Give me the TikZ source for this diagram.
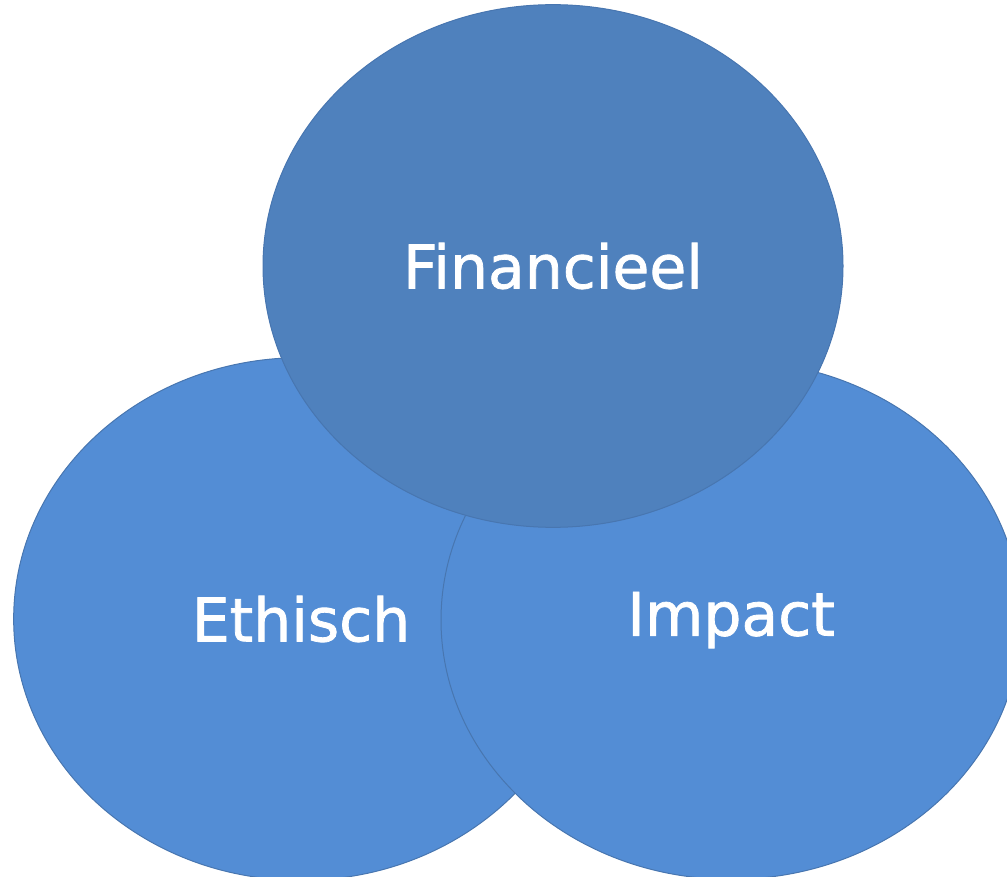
\documentclass[tikz,border=0pt]{standalone}
\usepackage{fontspec}
\usepackage{tikz}
\usetikzlibrary{shapes.geometric,positioning}
\newfontfamily\labelfont[FakeBold=1.3]{DejaVu Sans}
\definecolor{topblue}{RGB}{79, 129, 189}
\definecolor{lowblue}{RGB}{83, 141, 213}
\definecolor{rimblue}{RGB}{72, 118, 176}
\tikzstyle{area} = [ellipse, draw=rimblue, line width=0.75pt, fill=lowblue, text=white, inner sep=0pt, font=\labelfont\fontsize{45}{50}\selectfont]
\tikzstyle{toparea} = [area, fill=topblue]

\begin{document}
\begin{tikzpicture}[x=0.75pt, y=-0.75pt]
\useasboundingbox (0,0) rectangle (1007,877);
\clip (0,0) rectangle (1007,877);

% areas =============================
\node[area, minimum width=431pt, minimum height=392pt] (ethisch) at (301,619) {Ethisch};
\node[area, minimum width=435pt, minimum height=389pt] (impact) at (731,620) {Impact};
\node[toparea, minimum width=435pt, minimum height=392pt] (financieel) at (553,266) {Financieel};

\end{tikzpicture}
\end{document}
